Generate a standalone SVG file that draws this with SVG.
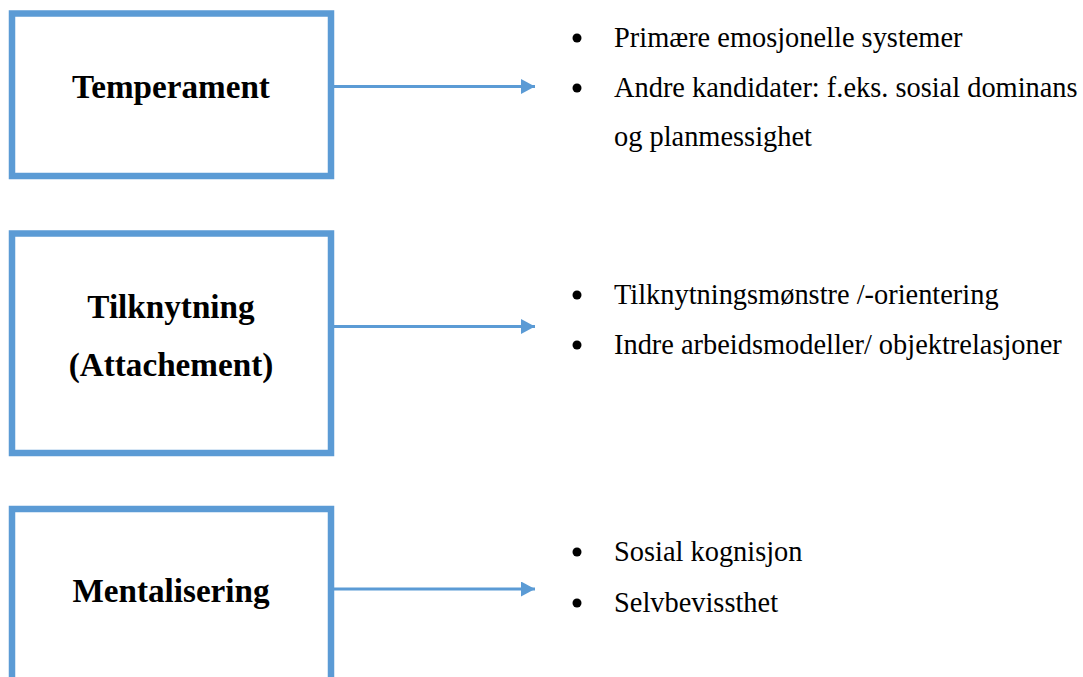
<svg xmlns="http://www.w3.org/2000/svg" width="1083" height="677" viewBox="0 0 1083 677">
<style>
.box{fill:#fff;stroke:#5B9BD5;stroke-width:6.5}
.title{font-family:"Liberation Serif","Times New Roman",serif;font-weight:bold;font-size:33.2px;fill:#000;text-anchor:middle}
.item{font-family:"Liberation Serif","Times New Roman",serif;font-size:28.4px;fill:#000}
.conn{stroke:#5B9BD5;stroke-width:2.8;fill:none}
</style>
<defs>
<marker id="ah" viewBox="0 0 14 15" refX="14" refY="7.5" markerWidth="14" markerHeight="15" markerUnits="userSpaceOnUse" orient="auto">
<path d="M0,0 L14,7.5 L0,15 Z" fill="#5B9BD5"/>
</marker>
</defs>
<g id="connectors">
<line class="conn" x1="334" y1="86.5" x2="535" y2="86.5" marker-end="url(#ah)"/>
<line class="conn" x1="334" y1="326.5" x2="535" y2="326.5" marker-end="url(#ah)"/>
<line class="conn" x1="334" y1="589" x2="535" y2="589" marker-end="url(#ah)"/>
</g>
<g id="temperament">
<rect class="box" x="12" y="13.5" width="319" height="162.5"/>
<text class="title" x="171" y="98">Temperament</text>
</g>
<g id="tilknytning">
<rect class="box" x="12" y="233.5" width="319" height="219.5"/>
<text class="title" x="171" y="318">Tilknytning</text>
<text class="title" x="171" y="376">(Attachement)</text>
</g>
<g id="mentalisering">
<rect class="box" x="12" y="509" width="319" height="190"/>
<text class="title" x="171" y="602">Mentalisering</text>
</g>
<g id="list-temperament">
<circle cx="577" cy="38" r="4.5"/>
<text class="item" x="614" y="47">Primære emosjonelle systemer</text>
<circle cx="577" cy="88" r="4.5"/>
<text class="item" x="614" y="97">Andre kandidater: f.eks. sosial dominans</text>
<text class="item" x="614" y="146">og planmessighet</text>
</g>
<g id="list-tilknytning">
<circle cx="577" cy="295" r="4.5"/>
<text class="item" x="614" y="304">Tilknytningsmønstre /-orientering</text>
<circle cx="577" cy="345" r="4.5"/>
<text class="item" x="614" y="354">Indre arbeidsmodeller/ objektrelasjoner</text>
</g>
<g id="list-mentalisering">
<circle cx="577" cy="552" r="4.5"/>
<text class="item" x="614" y="561">Sosial kognisjon</text>
<circle cx="577" cy="603" r="4.5"/>
<text class="item" x="614" y="612">Selvbevissthet</text>
</g>
</svg>
